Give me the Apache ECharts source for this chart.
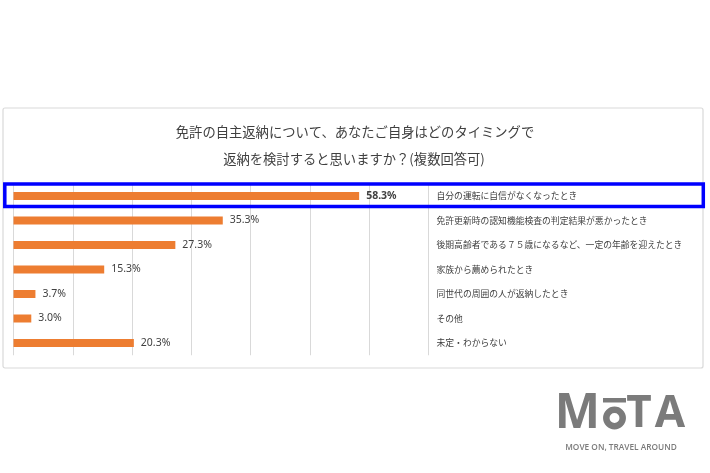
<!DOCTYPE html>
<html><head><meta charset="utf-8">
<script src="https://cdn.jsdelivr.net/npm/echarts@6/dist/echarts.min.js"></script>
<style>html,body{margin:0;padding:0;background:#fff}#c{width:710px;height:473px}</style>
</head><body><div id="c"></div>
<script>
const titleLines = ['免許の自主返納について、あなたご自身はどのタイミングで', '返納を検討すると思いますか？(複数回答可)'];
const categories = ['自分の運転に自信がなくなったとき', '免許更新時の認知機能検査の判定結果が悪かったとき', '後期高齢者である７５歳になるなど、一定の年齢を迎えたとき', '家族から薦められたとき', '同世代の周囲の人が返納したとき', 'その他', '未定・わからない'];
const values = [58.3, 35.3, 27.3, 15.3, 3.7, 3.0, 20.3];
const highlightIndex = 0;

const chart = echarts.init(document.getElementById('c'), null, {renderer: 'canvas'});
const CJK = '"Noto Sans CJK JP", "Noto Sans", sans-serif';
chart.setOption({
  animation: false,
  backgroundColor: '#fff',
  graphic: [
    {type: 'rect', shape: {x: 3, y: 108, width: 700, height: 260, r: 2}, style: {fill: '#fff', stroke: '#d9d9d9', lineWidth: 1.2}, z: -10},
    {type: 'text', x: 355, y: 132, style: {text: titleLines[0], font: '13.3px ' + CJK, fill: '#404040', textAlign: 'center', textVerticalAlign: 'middle'}},
    {type: 'text', x: 354, y: 159, style: {text: titleLines[1], font: '13.3px ' + CJK, fill: '#404040', textAlign: 'center', textVerticalAlign: 'middle'}},
    {type: 'rect', shape: {x: 4.8, y: 184, width: 698.5, height: 22.5}, style: {fill: 'none', stroke: '#0000ff', lineWidth: 3.5}, z: 100},
    {type: 'text', x: 577.5, y: 414, style: {text: 'M', font: 'bold 48px "Open Sans", sans-serif', fill: '#7b7b7b', textAlign: 'center', textVerticalAlign: 'middle'}},
    {type: 'circle', shape: {cx: 614.5, cy: 418, r: 8.2}, style: {fill: 'none', stroke: '#7b7b7b', lineWidth: 6.5}},
    {type: 'rect', shape: {x: 603, y: 398, width: 23, height: 4.5}, style: {fill: '#7b7b7b'}},
    {type: 'text', x: 639, y: 414, style: {text: 'T', font: 'bold 44px "Open Sans", sans-serif', fill: '#7b7b7b', textAlign: 'center', textVerticalAlign: 'middle'}},
    {type: 'text', x: 670, y: 414, style: {text: 'A', font: 'bold 44px "Open Sans", sans-serif', fill: '#7b7b7b', textAlign: 'center', textVerticalAlign: 'middle'}},
    {type: 'text', x: 621, y: 448, style: {text: 'MOVE ON, TRAVEL AROUND', font: '600 8.3px "Open Sans", sans-serif', fill: '#7b7b7b', textAlign: 'center', textVerticalAlign: 'middle'}}
  ],
  grid: {left: 13.5, right: 281.5, top: 183.75, height: 171.5, containLabel: false},
  xAxis: {
    type: 'value', min: 0, max: 70, interval: 10,
    axisLabel: {show: false}, axisLine: {show: false}, axisTick: {show: false},
    splitLine: {show: true, lineStyle: {color: '#d9d9d9', width: 1}}
  },
  yAxis: {
    type: 'category', data: categories, inverse: true, position: 'right',
    axisLine: {show: false}, axisTick: {show: false},
    axisLabel: {margin: 8, align: 'left', color: '#404040', fontSize: 8.8, fontFamily: CJK}
  },
  series: [{
    type: 'bar',
    data: values.map((v, i) => i === highlightIndex ? {value: v, label: {fontWeight: 'bold'}} : v),
    barWidth: 8,
    itemStyle: {color: '#ED7D31'},
    label: {show: true, position: 'right', distance: 7, color: '#404040', fontSize: 10.5, fontFamily: '"Noto Sans", sans-serif',
      formatter: p => p.value.toFixed(1) + '%'}
  }]
});
</script></body></html>
